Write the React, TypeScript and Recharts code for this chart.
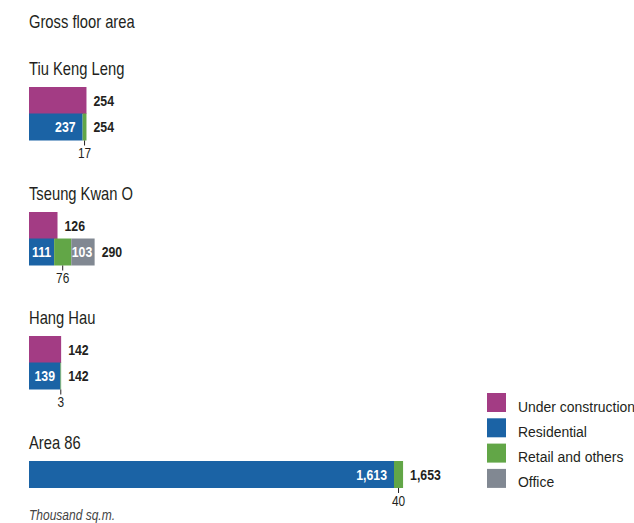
import React from 'react';
import { BarChart, Bar, XAxis, YAxis, LabelList } from 'recharts';

const sites = ['Tiu Keng Leng', 'Tseung Kwan O', 'Hang Hau', 'Area 86'];
const underConstruction: (number | null)[] = [254, 126, 142, null];
const residential = [237, 111, 139, 1613];
const retailOthers = [17, 76, 3, 40];
const office = [0, 103, 0, 0];

const seriesNames = ['Under construction', 'Residential', 'Retail and others', 'Office'];
const seriesColors = ['#a33c84', '#1b63a5', '#62a647', '#818892'];

const FONT = "'Liberation Sans', Arial, sans-serif";
const NARROW = 0.82; // emulate a condensed face
const DARK = '#231f20';

const ROW = 26.5;
const BELOW = 24;
const PLOT_W = 452.6; // x domain 0..2000
const X0 = 29;
const labelBaselines = [75, 199.5, 324, 449];

const fmt = (v: number) => v.toLocaleString('en-US');

type Row = { row: string; uc?: number; res?: number; ret?: number; off?: number | null; total?: number };

const buildRows = (i: number): Row[] => {
  const rows: Row[] = [];
  const u = underConstruction[i];
  if (u != null) rows.push({ row: 'uc', uc: u });
  rows.push({
    row: 'gfa',
    res: residential[i],
    ret: retailOthers[i],
    off: office[i] || null,
    total: residential[i] + retailOthers[i] + office[i],
  });
  return rows;
};

type NTProps = {
  x: number;
  y: number;
  size: number;
  anchor?: 'start' | 'middle' | 'end';
  bold?: boolean;
  italic?: boolean;
  fill?: string;
  sx?: number;
  children: React.ReactNode;
};

const NText = ({ x, y, size, anchor = 'start', bold, italic, fill = DARK, sx = NARROW, children }: NTProps) => (
  <text
    transform={`translate(${x},${y}) scale(${sx},1)`}
    x={0}
    y={0}
    textAnchor={anchor}
    fill={fill}
    style={{ fontFamily: FONT, fontSize: size, fontWeight: bold ? 700 : 400, fontStyle: italic ? 'italic' : 'normal' }}
  >
    {children}
  </text>
);

const box = (p: any) => {
  const vb = p.viewBox && p.viewBox.width != null ? p.viewBox : p;
  return { x: Number(vb.x), y: Number(vb.y), width: Number(vb.width), height: Number(vb.height) };
};

const insideLabel = (p: any) => {
  if (p.value == null) return null;
  const { x, y, width, height } = box(p);
  const wide = width >= 40;
  return (
    <NText x={wide ? x + width - 7 : x + width / 2} y={y + height / 2 + 5.5} anchor={wide ? 'end' : 'middle'} size={15} bold fill="#fff">
      {fmt(p.value)}
    </NText>
  );
};

const outsideLabel = (p: any) => {
  if (p.value == null) return null;
  const { x, y, width, height } = box(p);
  return (
    <NText x={x + width + 7} y={y + height / 2 + 5.5} size={15} bold>
      {fmt(p.value)}
    </NText>
  );
};

const makeRetailLabel = (gfa: Row) => (p: any) => {
  if (p.value == null) return null;
  const { x, y, width, height } = box(p);
  const cx = x + width / 2;
  return (
    <g>
      <line x1={cx} x2={cx} y1={y + height} y2={y + height + 5} stroke={DARK} strokeWidth={1} />
      <NText x={cx} y={y + height + 18} anchor="middle" size={14.5}>
        {fmt(p.value)}
      </NText>
      {gfa.off == null && (
        <NText x={x + width + 7} y={y + height / 2 + 5.5} size={15} bold>
          {fmt(gfa.total as number)}
        </NText>
      )}
    </g>
  );
};

const makeOfficeLabel = (gfa: Row) => (p: any) => {
  if (p.value == null) return null;
  const { x, y, width, height } = box(p);
  return (
    <g>
      <NText x={x + width / 2 - 1} y={y + height / 2 + 5.5} anchor="middle" size={15} bold fill="#fff">
        {fmt(p.value)}
      </NText>
      <NText x={x + width + 7} y={y + height / 2 + 5.5} size={15} bold>
        {fmt(gfa.total as number)}
      </NText>
    </g>
  );
};

const SiteChart = ({ index }: { index: number }) => {
  const rows = buildRows(index);
  const gfa = rows[rows.length - 1];
  const h = rows.length * ROW + BELOW;
  return (
    <div style={{ position: 'absolute', left: X0, top: labelBaselines[index] + 12 }}>
      <BarChart
        width={PLOT_W + 60}
        height={h}
        data={rows}
        layout="vertical"
        margin={{ top: 0, right: 60, bottom: BELOW, left: 0 }}
        barCategoryGap={0}
        barGap={0}
      >
        <XAxis type="number" domain={[0, 2000]} hide />
        <YAxis type="category" dataKey="row" hide width={0} />
        <Bar dataKey="uc" stackId="a" fill={seriesColors[0]} isAnimationActive={false}>
          <LabelList dataKey="uc" content={outsideLabel} />
        </Bar>
        <Bar dataKey="res" stackId="a" fill={seriesColors[1]} isAnimationActive={false}>
          <LabelList dataKey="res" content={insideLabel} />
        </Bar>
        <Bar dataKey="ret" stackId="a" fill={seriesColors[2]} isAnimationActive={false}>
          <LabelList dataKey="ret" content={makeRetailLabel(gfa)} />
        </Bar>
        <Bar dataKey="off" stackId="a" fill={seriesColors[3]} isAnimationActive={false}>
          <LabelList dataKey="off" content={makeOfficeLabel(gfa)} />
        </Bar>
      </BarChart>
    </div>
  );
};

export default function App() {
  return (
    <div style={{ position: 'absolute', left: 0, top: 0, width: 634, height: 523, background: '#fff', overflow: 'hidden' }}>
      <svg width={634} height={523} style={{ position: 'absolute', left: 0, top: 0 }}>
        <NText x={X0} y={28} size={18}>
          Gross floor area
        </NText>
        {sites.map((s, i) => (
          <NText key={s} x={X0} y={labelBaselines[i]} size={18}>
            {s}
          </NText>
        ))}
        <NText x={X0} y={520} size={15} italic fill="#444" sx={0.8}>
          Thousand sq.m.
        </NText>
        {seriesNames.map((n, i) => (
          <g key={n}>
            <rect x={487} y={393 + i * 25.3} width={19} height={19} fill={seriesColors[i]} />
            <NText x={518} y={411.5 + i * 25.3} size={15.5} sx={0.9}>
              {n}
            </NText>
          </g>
        ))}
      </svg>
      {sites.map((s, i) => (
        <SiteChart key={s} index={i} />
      ))}
    </div>
  );
}
